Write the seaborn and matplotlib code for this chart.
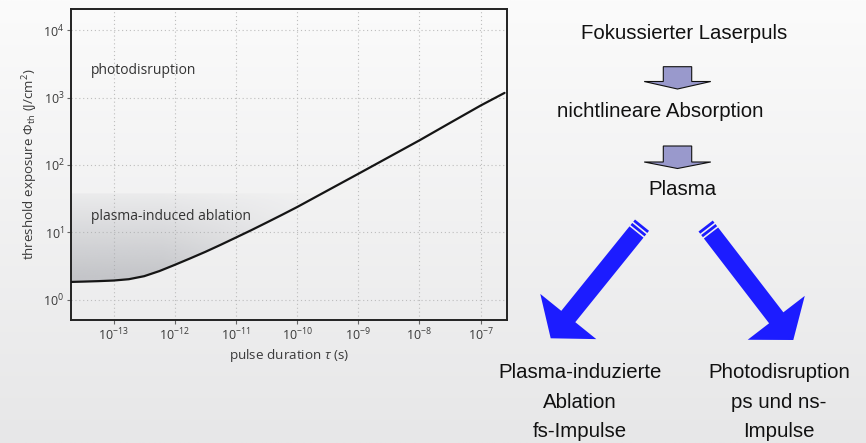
import numpy as np
import pandas as pd
import matplotlib
matplotlib.use("Agg")
import matplotlib.pyplot as plt
import seaborn as sns
from matplotlib.patches import Polygon
from matplotlib.ticker import FixedLocator, FuncFormatter

# ---- threshold curve: log10 pulse duration (s) vs threshold exposure (J/cm^2)
log_tau = [-13.70, -13.50, -13.25, -13.00, -12.75, -12.50, -12.25, -12.00,
           -11.75, -11.50, -11.25, -11.00, -10.75, -10.50, -10.25, -10.00,
           -9.50, -9.00, -8.50, -8.00, -7.50, -7.00, -6.61]
phi_th = [1.85, 1.87, 1.90, 1.94, 2.03, 2.25, 2.68, 3.31,
          4.12, 5.16, 6.56, 8.41, 10.8, 14.0, 18.2, 23.8,
          42.0, 74.0, 131.0, 232.0, 421.0, 761.0, 1170.0]

x_tick_exp = [-13, -12, -11, -10, -9, -8, -7]
y_tick_exp = [0, 1, 2, 3, 4]
region_labels = ["photodisruption", "plasma-induced ablation"]
ablation_ceiling = 38.0      # upper edge of the shaded ablation band

flow_steps = ["Fokussierter Laserpuls", "nichtlineare Absorption", "Plasma"]
left_outcome = ["Plasma-induzierte", "Ablation", "fs-Impulse"]
right_outcome = ["Photodisruption", "ps und ns-", "Impulse"]

df = pd.DataFrame({"tau": 10.0 ** np.array(log_tau), "phi": phi_th})

# ---- styling
sns.set_theme(style="white")
chart_font = "Open Sans"
plt.rcParams["font.family"] = [chart_font, "DejaVu Sans"]
plt.rcParams["mathtext.fontset"] = "custom"
plt.rcParams["mathtext.rm"] = chart_font
plt.rcParams["mathtext.it"] = chart_font + ":italic"
plt.rcParams["mathtext.bf"] = chart_font + ":bold"

W, H = 866, 443
fig = plt.figure(figsize=(W / 100, H / 100), dpi=100)

# page background: soft vertical gradient
bg = fig.add_axes([0, 0, 1, 1], zorder=-10)
grad = np.linspace(0, 1, 256)[:, None]
top_c = np.array([251, 251, 251]) / 255
bot_c = np.array([231, 231, 232]) / 255
bg_img = top_c[None, None, :] * (1 - grad[..., None]) + bot_c[None, None, :] * grad[..., None]
bg_img = np.repeat(bg_img, 4, axis=1)
bg.imshow(bg_img, aspect="auto", extent=[0, 1, 0, 1], origin="upper")
bg.axis("off")

# ---- main chart
ax = fig.add_axes([70.7 / W, 1 - 320 / H, (507 - 70.7) / W, (320 - 9.3) / H])
ax.set_facecolor("none")
ax.set_xscale("log")
ax.set_yscale("log")
x_lo, x_hi = -13.70, -6.57
y_lo, y_hi = -0.297, 4.307

sns.lineplot(data=df, x="tau", y="phi", ax=ax, color="#151515", linewidth=1.6,
             zorder=4, legend=False)

# shaded ablation band between curve and ceiling, fading up and to the right
nx, ny = 400, 300
lx = x_lo + np.linspace(0, 1, nx) * (x_hi - x_lo)
ly = y_lo + np.linspace(0, 1, ny) * (y_hi - y_lo)
LX, LY = np.meshgrid(lx, ly)
hfac = np.clip((-9.5 - LX) / 2.7, 0, 1) ** 0.8
vfac = 0.15 + 0.85 * np.clip((np.log10(ablation_ceiling) - LY) / 1.25, 0, 1)
shade = np.zeros((ny, nx, 4))
shade[..., 0] = 165 / 255
shade[..., 1] = 167 / 255
shade[..., 2] = 173 / 255
shade[..., 3] = 0.58 * hfac * vfac
im = ax.imshow(shade, extent=[0, 1, 0, 1], transform=ax.transAxes,
               origin="lower", aspect="auto", zorder=1, interpolation="bilinear")
under = df[df["phi"] <= ablation_ceiling]
verts = list(zip(under["tau"], under["phi"]))
verts += [(10.0 ** -9.75, ablation_ceiling), (df["tau"].iloc[0], ablation_ceiling)]
clip = Polygon(verts, closed=True, transform=ax.transData, facecolor="none", edgecolor="none")
ax.add_patch(clip)
im.set_clip_path(clip)
ax.set_xlim(10 ** x_lo, 10 ** x_hi)
ax.set_ylim(10 ** y_lo, 10 ** y_hi)

ax.xaxis.set_major_locator(FixedLocator([10.0 ** e for e in x_tick_exp]))
ax.yaxis.set_major_locator(FixedLocator([10.0 ** e for e in y_tick_exp]))
ax.xaxis.set_minor_locator(FixedLocator([]))
ax.yaxis.set_minor_locator(FixedLocator([]))
fmt = FuncFormatter(lambda v, p: r"$10^{%d}$" % int(round(np.log10(v))))
ax.xaxis.set_major_formatter(fmt)
ax.yaxis.set_major_formatter(fmt)
ax.tick_params(axis="both", which="major", labelsize=9, labelcolor="#3a3a3a",
               color="#666666", length=3, width=0.8, direction="out", pad=1.5,
               bottom=True, left=True)
ax.grid(True, which="major", linestyle=(0, (1, 2.5)), color="#bdbdbd", linewidth=0.8)
for s in ax.spines.values():
    s.set_color("#222222")
    s.set_linewidth(1.4)

ax.set_xlabel(r"pulse duration $\tau$ (s)", fontsize=9.7, color="#3a3a3a", labelpad=3)
ax.set_ylabel(r"threshold exposure $\Phi_{\rm th}$ (J/cm$^2$)", fontsize=9.6,
              color="#3a3a3a", labelpad=2)

ax.text(10 ** -13.37, 10 ** 3.35, region_labels[0], fontsize=10, color="#333333",
        ha="left", va="baseline", zorder=5)
ax.text(10 ** -13.37, 10 ** 1.185, region_labels[1], fontsize=10, color="#333333",
        ha="left", va="baseline", zorder=5)

# ---- flow diagram overlay in pixel space
ov = fig.add_axes([0, 0, 1, 1], zorder=5)
ov.set_facecolor("none")
ov.set_xlim(0, W)
ov.set_ylim(H, 0)
ov.axis("off")

flow_font = ["Liberation Sans", "DejaVu Sans"]
flow_size = 14.7
flow_x = [684, 660, 682]
flow_base = [39.3, 117.3, 195]
for txt, x, y in zip(flow_steps, flow_x, flow_base):
    ov.text(x, y, txt, family=flow_font, fontsize=flow_size, color="#111111",
            ha="center", va="baseline")

out_base = [378.3, 408.3, 437.3]
for txt, y in zip(left_outcome, out_base):
    ov.text(580, y, txt, family=flow_font, fontsize=flow_size, color="#111111",
            ha="center", va="baseline")
for txt, y in zip(right_outcome, out_base):
    ov.text(779, y, txt, family=flow_font, fontsize=flow_size, color="#111111",
            ha="center", va="baseline")


def block_arrow(cx, top, base, tip, stem_hw, head_hw):
    pts = [(cx - stem_hw, top), (cx + stem_hw, top), (cx + stem_hw, base),
           (cx + head_hw, base), (cx, tip), (cx - head_hw, base), (cx - stem_hw, base)]
    ov.add_patch(Polygon(pts, closed=True, facecolor="#9999cc", edgecolor="#111111",
                         linewidth=0.8, joinstyle="miter"))


block_arrow(677.5, 66.7, 81.5, 89.0, 14.2, 33.3)
block_arrow(677.5, 146.0, 162.0, 168.5, 14.2, 33.3)


def striped_arrow(tail, tip, shaft_w=18.0, head_len=28.0, head_hw=36.0,
                  color="#1c1cff"):
    tail = np.asarray(tail, float)
    tip = np.asarray(tip, float)
    d = tip - tail
    u = d / np.hypot(*d)
    n = np.array([-u[1], u[0]])
    base = tip - head_len * u
    hw = shaft_w / 2
    body = [tail + n * hw, base + n * hw, base + n * head_hw, tip,
            base - n * head_hw, base - n * hw, tail - n * hw]
    ov.add_patch(Polygon(body, closed=True, facecolor=color, edgecolor="none"))
    # two thin bands behind the tail
    for start, width in [(1.6, 2.8), (6.0, 2.8)]:
        a = tail - u * start
        b = tail - u * (start + width)
        band = [a + n * hw, a - n * hw, b - n * hw, b + n * hw]
        ov.add_patch(Polygon(band, closed=True, facecolor=color, edgecolor="none"))


striped_arrow((636.5, 232.0), (550.7, 338.3))
striped_arrow((711.0, 233.0), (793.3, 340.0))

fig.savefig("out.png", dpi=100)
